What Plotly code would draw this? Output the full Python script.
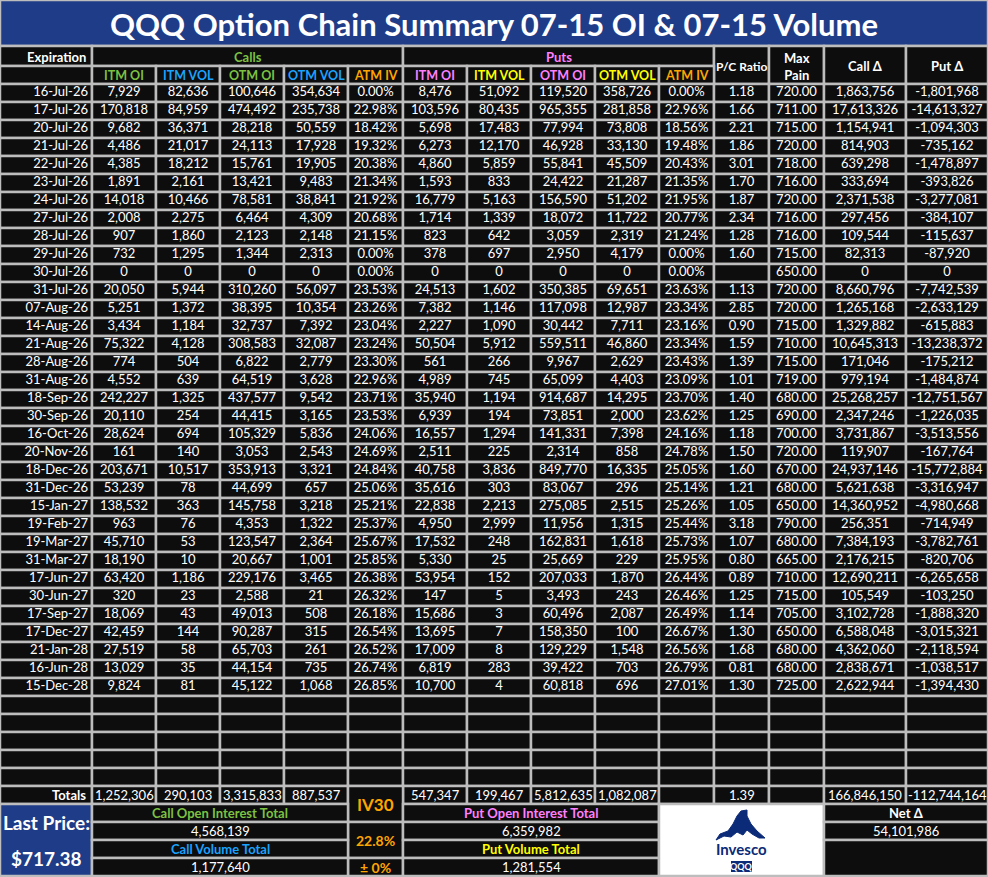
import plotly.graph_objects as go

title = "QQQ Option Chain Summary 07-15 OI & 07-15 Volume"
expirations = ["16-Jul-26","17-Jul-26","20-Jul-26","21-Jul-26","22-Jul-26","23-Jul-26","24-Jul-26","27-Jul-26","28-Jul-26","29-Jul-26","30-Jul-26","31-Jul-26","07-Aug-26","14-Aug-26","21-Aug-26","28-Aug-26","31-Aug-26","18-Sep-26","30-Sep-26","16-Oct-26","20-Nov-26","18-Dec-26","31-Dec-26","15-Jan-27","19-Feb-27","19-Mar-27","31-Mar-27","17-Jun-27","30-Jun-27","17-Sep-27","17-Dec-27","21-Jan-28","16-Jun-28","15-Dec-28"]
call_itm_oi = [7929,170818,9682,4486,4385,1891,14018,2008,907,732,0,20050,5251,3434,75322,774,4552,242227,20110,28624,161,203671,53239,138532,963,45710,18190,63420,320,18069,42459,27519,13029,9824]
call_itm_vol = [82636,84959,36371,21017,18212,2161,10466,2275,1860,1295,0,5944,1372,1184,4128,504,639,1325,254,694,140,10517,78,363,76,53,10,1186,23,43,144,58,35,81]
call_otm_oi = [100646,474492,28218,24113,15761,13421,78581,6464,2123,1344,0,310260,38395,32737,308583,6822,64519,437577,44415,105329,3053,353913,44699,145758,4353,123547,20667,229176,2588,49013,90287,65703,44154,45122]
call_otm_vol = [354634,235738,50559,17928,19905,9483,38841,4309,2148,2313,0,56097,10354,7392,32087,2779,3628,9542,3165,5836,2543,3321,657,3218,1322,2364,1001,3465,21,508,315,261,735,1068]
call_atm_iv = [0.00,22.98,18.42,19.32,20.38,21.34,21.92,20.68,21.15,0.00,0.00,23.53,23.26,23.04,23.24,23.30,22.96,23.71,23.53,24.06,24.69,24.84,25.06,25.21,25.37,25.67,25.85,26.38,26.32,26.18,26.54,26.52,26.74,26.85]
put_itm_oi = [8476,103596,5698,6273,4860,1593,16779,1714,823,378,0,24513,7382,2227,50504,561,4989,35940,6939,16557,2511,40758,35616,22838,4950,17532,5330,53954,147,15686,13695,17009,6819,10700]
put_itm_vol = [51092,80435,17483,12170,5859,833,5163,1339,642,697,0,1602,1146,1090,5912,266,745,1194,194,1294,225,3836,303,2213,2999,248,25,152,5,3,7,8,283,4]
put_otm_oi = [119520,965355,77994,46928,55841,24422,156590,18072,3059,2950,0,350385,117098,30442,559511,9967,65099,914687,73851,141331,2314,849770,83067,275085,11956,162831,25669,207033,3493,60496,158350,129229,39422,60818]
put_otm_vol = [358726,281858,73808,33130,45509,21287,51202,11722,2319,4179,0,69651,12987,7711,46860,2629,4403,14295,2000,7398,858,16335,296,2515,1315,1618,229,1870,243,2087,100,1548,703,696]
put_atm_iv = [0.00,22.96,18.56,19.48,20.43,21.35,21.95,20.77,21.24,0.00,0.00,23.63,23.34,23.16,23.34,23.43,23.09,23.70,23.62,24.16,24.78,25.05,25.14,25.26,25.44,25.73,25.95,26.44,26.46,26.49,26.67,26.56,26.79,27.01]
pc_ratio = ["1.18","1.66","2.21","1.86","3.01","1.70","1.87","2.34","1.28","1.60","","1.13","2.85","0.90","1.59","1.39","1.01","1.40","1.25","1.18","1.50","1.60","1.21","1.05","3.18","1.07","0.80","0.89","1.25","1.14","1.30","1.68","0.81","1.30"]
max_pain = [720,711,715,720,718,716,720,716,716,715,650,720,720,715,710,715,719,680,690,700,720,670,680,650,790,680,665,710,715,705,650,680,680,725]
call_delta = [1863756,17613326,1154941,814903,639298,333694,2371538,297456,109544,82313,0,8660796,1265168,1329882,10645313,171046,979194,25268257,2347246,3731867,119907,24937146,5621638,14360952,256351,7384193,2176215,12690211,105549,3102728,6588048,4362060,2838671,2622944]
put_delta = [-1801968,-14613327,-1094303,-735162,-1478897,-393826,-3277081,-384107,-115637,-87920,0,-7742539,-2633129,-615883,-13238372,-175212,-1484874,-12751567,-1226035,-3513556,-167764,-15772884,-3316947,-4980668,-714949,-3782761,-820706,-6265658,-103250,-1888320,-3015321,-2118594,-1038517,-1394430]
totals_calls = [1252306,290103,3315833,887537]
totals_puts = [547347,199467,5812635,1082087]
total_pc = "1.39"
total_call_delta = 166846150
total_put_delta = -112744164
call_oi_total = 4568139
put_oi_total = 6359982
call_vol_total = 1177640
put_vol_total = 1281554
net_delta = 54101986
iv30 = "22.8%"
iv30_change = "± 0%"
last_price = "$717.38"

GREEN = "#7cc242"; BLUE = "#1aa3ff"; ORANGE = "#ffa500"; PINK = "#ff80ff"; YELLOW = "#ffff00"
BG = "#0d0d0d"; GRID = "#bdbdbd"; NAVY = "#1f3c88"
FONT = "Lato"
FS = 13

E = [0, 92, 156, 220, 284, 348, 403, 467, 531, 595, 659, 714, 769, 824, 906, 988]
Y0 = 84; RH = 18
N_EMPTY = 5

fig = go.Figure()
shapes = []; ann = []

def cell(x0, x1, y0, y1, fill=BG):
    shapes.append(dict(type="rect", x0=x0, x1=x1, y0=y0, y1=y1, fillcolor=fill,
                       line=dict(color=GRID, width=2.5), layer="below"))

def text(x, y, s, color="white", size=FS, bold=False, anchor="center"):
    ann.append(dict(x=x, y=y, text=f"<b>{s}</b>" if bold else s, showarrow=False,
                    font=dict(family=FONT, size=size, color=color), xanchor=anchor, yanchor="middle"))

def mid(i): return (E[i] + E[i+1]) / 2

# title
cell(0, 988, 0, 46, NAVY)
text(494, 24, title, size=31, bold=True)

# header
cell(0, 92, 46, 66); text(88, 57, "Expiration", bold=True, anchor="right")
cell(E[1], E[6], 46, 66); text((E[1]+E[6])/2, 57, "Calls", GREEN, bold=True)
cell(E[6], E[11], 46, 66); text((E[6]+E[11])/2, 57, "Puts", PINK, bold=True)
cell(E[11], E[12], 46, 84); text(mid(11), 66, "P/C Ratio", bold=True, size=12)
cell(E[12], E[13], 46, 84); text(mid(12), 66, "Max<br>Pain", bold=True)
cell(E[13], E[14], 46, 84); text(mid(13), 66, "Call Δ", bold=True)
cell(E[14], E[15], 46, 84); text(mid(14), 66, "Put Δ", bold=True)
cell(0, 92, 66, 84)
subs = [("ITM OI", GREEN), ("ITM VOL", BLUE), ("OTM OI", GREEN), ("OTM VOL", BLUE), ("ATM IV", ORANGE),
        ("ITM OI", PINK), ("ITM VOL", YELLOW), ("OTM OI", PINK), ("OTM VOL", YELLOW), ("ATM IV", ORANGE)]
for k, (s, c) in enumerate(subs):
    cell(E[k+1], E[k+2], 66, 84); text(mid(k+1), 75, s, c, bold=True, size=12.5)

fmt = lambda v: f"{v:,}"
pct = lambda v: f"{v:.2f}%"
cols = [[fmt(v) for v in call_itm_oi], [fmt(v) for v in call_itm_vol], [fmt(v) for v in call_otm_oi],
        [fmt(v) for v in call_otm_vol], [pct(v) for v in call_atm_iv],
        [fmt(v) for v in put_itm_oi], [fmt(v) for v in put_itm_vol], [fmt(v) for v in put_otm_oi],
        [fmt(v) for v in put_otm_vol], [pct(v) for v in put_atm_iv],
        pc_ratio, [f"{v:.2f}" for v in max_pain], [fmt(v) for v in call_delta], [fmt(v) for v in put_delta]]

nrows = len(expirations)
for r in range(nrows + N_EMPTY):
    for c in range(15):
        cell(E[c], E[c+1], Y0 + r*RH, Y0 + (r+1)*RH)

ys = [Y0 + r*RH + RH/2 for r in range(nrows)]
fig.add_trace(go.Scatter(x=[88]*nrows, y=ys, text=expirations, mode="text", textposition="middle left",
                         textfont=dict(family=FONT, size=FS, color="white"), hoverinfo="skip"))
for c, col in enumerate(cols):
    fig.add_trace(go.Scatter(x=[mid(c+1)]*nrows, y=ys, text=col, mode="text", textposition="middle center",
                             textfont=dict(family=FONT, size=FS, color="white"), hoverinfo="skip"))

# totals row
ty0 = Y0 + (nrows + N_EMPTY) * RH; ty1 = ty0 + RH; tyc = ty0 + RH/2
cell(0, 92, ty0, ty1); text(88, tyc, "Totals", bold=True, anchor="right")
for k, v in enumerate(totals_calls):
    cell(E[k+1], E[k+2], ty0, ty1); text(mid(k+1), tyc, fmt(v))
for k, v in enumerate(totals_puts):
    cell(E[k+6], E[k+7], ty0, ty1); text(mid(k+6), tyc, fmt(v))
cell(E[10], E[11], ty0, ty1)
cell(E[11], E[12], ty0, ty1); text(mid(11), tyc, total_pc)
cell(E[12], E[13], ty0, ty1)
cell(E[13], E[14], ty0, ty1); text(mid(13), tyc, fmt(total_call_delta))
cell(E[14], E[15], ty0, ty1); text(mid(14), tyc, fmt(total_put_delta))

# footer
f0 = ty1; fy = [f0 + i*RH for i in range(5)]
cell(0, 92, f0, fy[4], NAVY)
text(46, f0 + 18, "Last Price:", size=19, bold=True)
text(46, f0 + 54, last_price, size=19, bold=True)
cell(348, 403, ty0, f0 + RH); text(mid(5), (ty0 + f0 + RH)/2, "IV30", ORANGE, size=17, bold=True)
cell(348, 403, fy[1], fy[3]); text(mid(5), fy[2], iv30, ORANGE, size=14, bold=True)
cell(348, 403, fy[3], fy[4]); text(mid(5), fy[3] + 9, iv30_change, ORANGE, size=14, bold=True)
labels = [("Call Open Interest Total", GREEN, call_oi_total, "Call Volume Total", BLUE, call_vol_total, 92, 348),
          ("Put Open Interest Total", PINK, put_oi_total, "Put Volume Total", YELLOW, put_vol_total, 403, 659)]
for l1, c1, v1, l2, c2, v2, xa, xb in labels:
    xm = (xa + xb) / 2
    for i in range(4): cell(xa, xb, fy[i], fy[i+1])
    text(xm, fy[0] + 9, l1, c1, bold=True)
    text(xm, fy[1] + 9, fmt(v1))
    text(xm, fy[2] + 9, l2, c2, bold=True)
    text(xm, fy[3] + 9, fmt(v2))
cell(659, 824, f0, fy[4], "white")
cell(824, 988, fy[0], fy[1]); text(906, fy[0] + 9, "Net Δ", bold=True)
cell(824, 988, fy[1], fy[2]); text(906, fy[1] + 9, fmt(net_delta))
cell(824, 988, fy[2], fy[4])

# logo
LOGO = "#0b2a78"
shapes.append(dict(type="path", layer="above", fillcolor=LOGO, line=dict(color=LOGO, width=1),
                   path="M 716 840 L 720 834 L 728 831 L 733 824 L 737 816 L 741 811 L 747 810 L 747 816 "
                        "L 751 824 L 757 831 L 765 838 L 759 838 L 752 834 L 747 830 L 743 835 L 737 832 "
                        "L 731 837 L 724 836 Z"))
text(741.5, 849, "Invesco", LOGO, size=15, bold=True)
shapes.append(dict(type="rect", x0=731, x1=752, y0=861, y1=872, fillcolor=LOGO, line=dict(width=0), layer="above"))
text(741.5, 866.5, "QQQ", "white", size=9, bold=True)

fig.update_layout(width=988, height=877, margin=dict(l=0, r=0, t=0, b=0),
                  paper_bgcolor="white", plot_bgcolor="white", showlegend=False,
                  shapes=shapes, annotations=ann,
                  xaxis=dict(range=[0, 988], visible=False, fixedrange=True),
                  yaxis=dict(range=[877, 0], visible=False, fixedrange=True))
fig.write_html("out.html", config={"displayModeBar": False},
               post_script="document.body.style.margin='0';document.body.style.overflow='hidden';")
